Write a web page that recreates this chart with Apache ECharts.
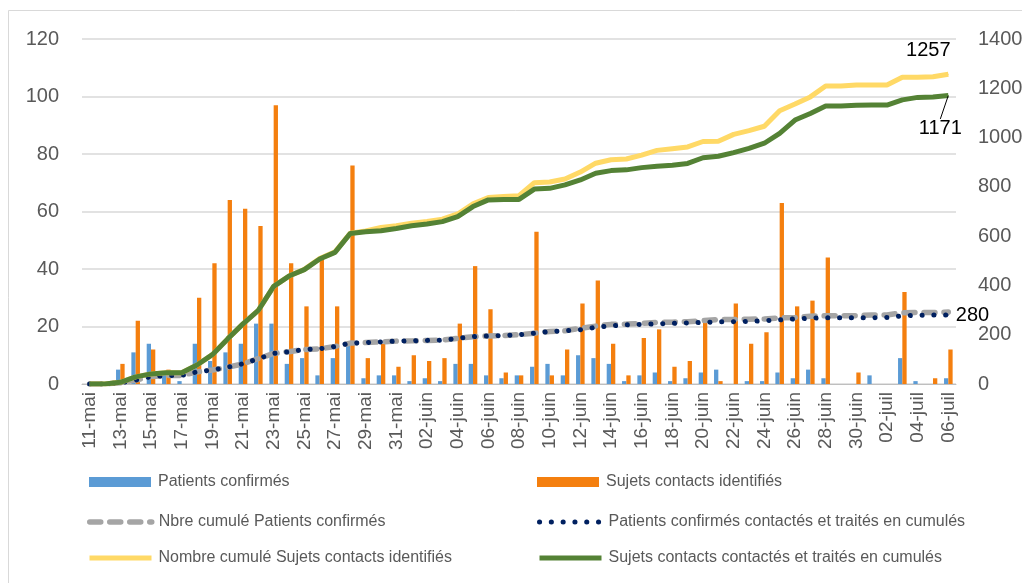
<!DOCTYPE html>
<html>
<head>
<meta charset="utf-8">
<script src="https://cdn.jsdelivr.net/npm/echarts@6/dist/echarts.min.js"></script>
<style>
  html, body { margin: 0; padding: 0; background: #fff; }
  #chart { width: 1022px; height: 583px; }
</style>
</head>
<body>
<div id="chart"></div>
<script>
const dates = [
  '11-mai', '12-mai', '13-mai', '14-mai', '15-mai', '16-mai', '17-mai', '18-mai', '19-mai', '20-mai',
  '21-mai', '22-mai', '23-mai', '24-mai', '25-mai', '26-mai', '27-mai', '28-mai', '29-mai', '30-mai',
  '31-mai', '01-juin', '02-juin', '03-juin', '04-juin', '05-juin', '06-juin', '07-juin', '08-juin', '09-juin',
  '10-juin', '11-juin', '12-juin', '13-juin', '14-juin', '15-juin', '16-juin', '17-juin', '18-juin', '19-juin',
  '20-juin', '21-juin', '22-juin', '23-juin', '24-juin', '25-juin', '26-juin', '27-juin', '28-juin', '29-juin',
  '30-juin', '01-juil', '02-juil', '03-juil', '04-juil', '05-juil', '06-juil'
]

// barres (axe gauche)
const patientsConfirmes = [
  0, 0, 5, 11, 14, 4, 1, 14, 8, 11, 14, 21, 21, 7, 9, 3, 9, 14, 2, 3,
  3, 1, 2, 1, 7, 7, 3, 2, 3, 6, 7, 3, 10, 9, 7, 1, 3, 4, 1, 2,
  4, 5, 0, 1, 1, 4, 2, 5, 2, 0, 0, 3, 0, 9, 1, 0, 2
]
const sujetsContacts = [
  0, 0, 7, 22, 12, 5, 0, 30, 42, 64, 61, 55, 97, 42, 27, 44, 27, 76, 9, 14,
  6, 10, 8, 9, 21, 41, 26, 4, 3, 53, 3, 12, 28, 36, 14, 3, 16, 19, 6, 8,
  22, 1, 28, 14, 18, 63, 27, 29, 44, 0, 4, 0, 0, 32, 0, 2, 12
]

// courbes cumulées (axe droit)
const cumulPatients = [
  0, 0, 5, 16, 30, 34, 35, 49, 57, 68, 82, 103, 124, 131, 140, 143, 152, 166, 168, 171,
  174, 175, 177, 178, 185, 192, 195, 197, 200, 206, 213, 216, 226, 235, 242, 243, 246, 250, 251, 253,
  257, 262, 262, 263, 264, 268, 270, 275, 277, 277, 277, 280, 280, 289, 290, 290, 292
]
const patientsTraites = [
  0, 0, 5, 16, 30, 34, 35, 49, 57, 68, 82, 103, 124, 131, 140, 143, 152, 166, 168, 171,
  174, 175, 177, 178, 185, 192, 195, 197, 200, 206, 213, 216, 220, 230, 236, 240, 242, 244, 246, 248,
  250, 252, 253, 254, 257, 260, 264, 267, 269, 269, 269, 269, 270, 277, 279, 280, 280
]
const cumulSujets = [
  0, 0, 7, 29, 41, 46, 46, 77, 119, 183, 244, 299, 396, 438, 465, 509, 536, 612, 621, 635,
  642, 652, 660, 669, 690, 731, 757, 761, 764, 817, 820, 832, 860, 896, 910, 913, 929, 948, 955, 962,
  984, 985, 1013, 1028, 1046, 1109, 1136, 1165, 1209, 1209, 1213, 1213, 1213, 1245, 1245, 1247, 1257
]
const sujetsTraites = [
  0, 0, 7, 29, 41, 46, 46, 77, 119, 183, 244, 299, 396, 438, 464, 507, 534, 611, 618, 622,
  631, 642, 649, 659, 679, 720, 747, 749, 749, 791, 794, 808, 828, 855, 866, 869, 878, 884, 888, 895,
  918, 924, 939, 956, 977, 1017, 1071, 1098, 1128, 1128, 1131, 1132, 1132, 1153, 1163, 1165, 1171
]

const FONT = '"Liberation Sans", Arial, sans-serif'
const GREY_TEXT = '#595959'

// styles des courbes (réutilisés pour la légende)
const styleCumulPatients = { color: '#a5a5a5', width: 5.5, type: [11, 9], cap: 'round' }
const stylePatientsTraites = { color: '#002060', width: 5, type: [0.1, 11.7], cap: 'round' }
const styleCumulSujets = { color: '#ffd966', width: 5 }
const styleSujetsTraites = { color: '#548235', width: 5 }

// étiquette seulement sur le dernier point
const withLastLabel = (arr, label) =>
  arr.map((v, i) =>
    i === arr.length - 1
      ? { value: v, symbol: 'circle', symbolSize: 1, label: Object.assign({ show: true, fontSize: 20, fontFamily: FONT, color: '#000' }, label) }
      : v
  )

const legendBase = {
  padding: 0,
  itemWidth: 62,
  itemHeight: 10,
  itemGap: 0,
  textStyle: { fontSize: 16, color: GREY_TEXT, fontFamily: FONT, padding: [0, 0, 0, 2] },
  selectedMode: false,
}
const lineLegend = (name, ls, left, top) =>
  Object.assign({}, legendBase, {
    data: [name],
    left,
    top,
    itemStyle: { opacity: 0 },
    lineStyle: Object.assign({}, ls, { opacity: 1 }),
  })
const rows = [474, 514, 550]

const chart = echarts.init(document.getElementById('chart'))
chart.setOption({
  animation: false,
  backgroundColor: '#fff',
  textStyle: { fontFamily: FONT },
  graphic: [
    {
      type: 'rect',
      shape: { x: 8.5, y: 10.5, width: 1100, height: 1000 },
      style: { fill: 'none', stroke: '#d9d9d9', lineWidth: 1 },
      silent: true,
    },
  ],
  grid: { left: 82, right: 66, top: 39, bottom: 199, outerBoundsMode: 'none' },
  legend: [
    Object.assign({}, legendBase, { data: [{ name: 'Patients confirmés', icon: 'rect' }], left: 89, top: rows[0] }),
    Object.assign({}, legendBase, { data: [{ name: 'Sujets contacts identifiés', icon: 'rect' }], left: 537, top: rows[0] }),
    lineLegend('Nbre cumulé Patients confirmés', styleCumulPatients, 87, rows[1]),
    lineLegend('Patients confirmés contactés et traités en cumulés', stylePatientsTraites, 537, rows[1]),
    lineLegend('Nombre cumulé Sujets contacts identifiés', styleCumulSujets, 87, rows[2]),
    lineLegend('Sujets contacts contactés et traités en cumulés', styleSujetsTraites, 537, rows[2]),
  ],
  xAxis: {
    type: 'category',
    data: dates,
    boundaryGap: true,
    axisLine: { lineStyle: { color: '#bfbfbf', width: 1 } },
    axisTick: { interval: 1, length: 5, lineStyle: { color: '#bfbfbf' } },
    axisLabel: { interval: 1, rotate: 90, fontSize: 19, color: GREY_TEXT, margin: 8 },
    splitLine: { show: false },
  },
  yAxis: [
    {
      type: 'value',
      min: 0,
      max: 120,
      interval: 20,
      axisLine: { show: false },
      axisTick: { show: false },
      axisLabel: { fontSize: 20, color: GREY_TEXT, margin: 23 },
      splitLine: { lineStyle: { color: '#d9d9d9', width: 1.5 } },
    },
    {
      type: 'value',
      min: 0,
      max: 1400,
      interval: 200,
      position: 'right',
      axisLine: { show: false },
      axisTick: { show: false },
      axisLabel: { fontSize: 20, color: GREY_TEXT, margin: 22, formatter: (v) => String(v) },
      splitLine: { show: false },
    },
  ],
  series: [
    {
      name: 'Patients confirmés',
      type: 'bar',
      data: patientsConfirmes,
      barWidth: 4.3,
      barGap: '0%',
      itemStyle: { color: '#5b9bd5' },
    },
    {
      name: 'Sujets contacts identifiés',
      type: 'bar',
      data: sujetsContacts,
      barWidth: 4.3,
      barGap: '0%',
      itemStyle: { color: '#f47f0f' },
    },
    {
      name: 'Nbre cumulé Patients confirmés',
      type: 'line',
      yAxisIndex: 1,
      data: cumulPatients,
      symbol: 'none',
      lineStyle: styleCumulPatients,
      itemStyle: { color: styleCumulPatients.color },
    },
    {
      name: 'Patients confirmés contactés et traités en cumulés',
      type: 'line',
      yAxisIndex: 1,
      data: withLastLabel(patientsTraites, { position: 'right', distance: 7 }),
      symbol: 'none',
      lineStyle: stylePatientsTraites,
      itemStyle: { color: stylePatientsTraites.color },
    },
    {
      name: 'Nombre cumulé Sujets contacts identifiés',
      type: 'line',
      yAxisIndex: 1,
      data: withLastLabel(cumulSujets, { position: 'top', offset: [-20, -8] }),
      symbol: 'none',
      lineStyle: styleCumulSujets,
      itemStyle: { color: styleCumulSujets.color },
    },
    {
      name: 'Sujets contacts contactés et traités en cumulés',
      type: 'line',
      yAxisIndex: 1,
      data: withLastLabel(sujetsTraites, { position: 'bottom' }),
      symbol: 'none',
      lineStyle: styleSujetsTraites,
      itemStyle: { color: styleSujetsTraites.color },
      labelLayout: { dx: -8, dy: 18 },
      labelLine: { show: true, lineStyle: { color: '#000', width: 1 } },
    },
  ],
})
</script>
</body>
</html>
